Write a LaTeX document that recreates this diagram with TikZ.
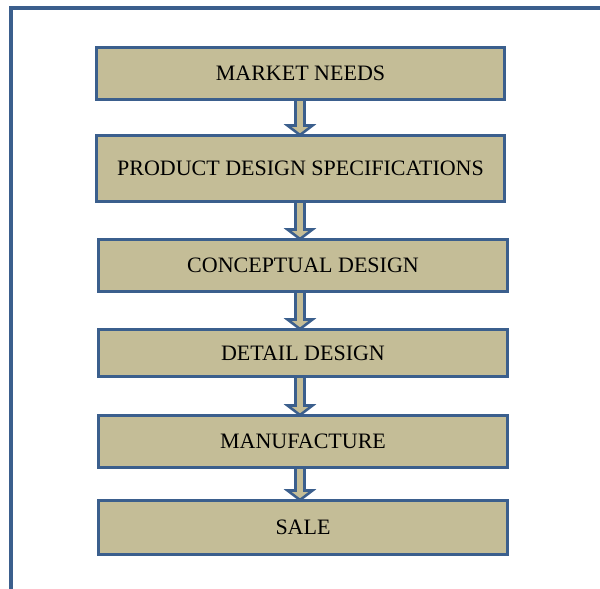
\documentclass[tikz,border=0pt]{standalone}
\usepackage{fontspec}
\setmainfont{Liberation Serif}
\usetikzlibrary{calc}
\definecolor{boxblue}{HTML}{3B5F8D}
\definecolor{boxtan}{HTML}{C4BD97}
\tikzset{
  stage/.style={draw=boxblue, fill=boxtan, line width=2.25pt, rectangle,
    inner sep=0pt, outer sep=0pt, minimum width=408*0.75pt,
    font=\fontsize{16.5}{19}\selectfont, text=black},
  blockarrow/.style={draw=boxblue, fill=boxtan, line width=1.9pt, line join=miter},
  frame/.style={draw=boxblue, line width=3pt}
}
\newcommand{\flowarrow}[2]{%
  \draw[blockarrow]
    ($(#1.south -| ax)+(-4.5,0)$) --
    ($(#2.north -| ax)+(-4.5,-10)$) --
    ($(#2.north -| ax)+(-12.5,-10)$) --
    ($(#2.north -| ax)+(0,-0.5)$) --
    ($(#2.north -| ax)+(12.5,-10)$) --
    ($(#2.north -| ax)+(4.5,-10)$) --
    ($(#1.south -| ax)+(4.5,0)$) -- cycle;}
\begin{document}
\begin{tikzpicture}[x=0.75pt, y=-0.75pt]
\useasboundingbox (0,0) rectangle (600,589);
\draw[frame] (10.5,600) -- (10.5,7.5) -- (610,7.5);
\coordinate (ax) at (300,0);
\node[stage, minimum height=52*0.75pt] (n1) at (300.5,73.5) {MARKET NEEDS};
\node[stage, minimum height=66*0.75pt] (n2) at (300.5,168.5) {PRODUCT DESIGN SPECIFICATIONS};
\node[stage, minimum width=409*0.75pt, minimum height=52*0.75pt] (n3) at (303,265.5) {CONCEPTUAL DESIGN};
\node[stage, minimum width=409*0.75pt, minimum height=47*0.75pt] (n4) at (303,353) {DETAIL DESIGN};
\node[stage, minimum width=409*0.75pt, minimum height=52*0.75pt] (n5) at (303,441.5) {MANUFACTURE};
\node[stage, minimum width=409*0.75pt, minimum height=54*0.75pt] (n6) at (303,527.5) {SALE};
\flowarrow{n1}{n2}
\flowarrow{n2}{n3}
\flowarrow{n3}{n4}
\flowarrow{n4}{n5}
\flowarrow{n5}{n6}
\end{tikzpicture}
\end{document}
